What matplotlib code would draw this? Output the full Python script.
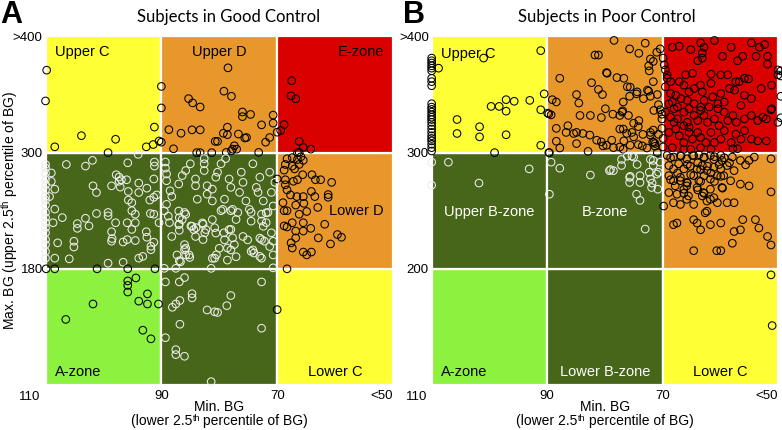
import numpy as np
import matplotlib
matplotlib.use("Agg")
from matplotlib import pyplot as plt
from matplotlib.patches import Rectangle

plt.rcParams["font.family"] = ["Liberation Sans", "DejaVu Sans"]
plt.rcParams["mathtext.fontset"] = "custom"
plt.rcParams["mathtext.rm"] = "Liberation Sans"

# ---------------------------------------------------------------- data
# grid edges (BG, mg/dL)
min_edges = [110, 90, 70, 50]
a_max_edges = [110, 180, 300, 400]
b_max_edges = [110, 200, 300, 400]
min_ticks = ["90", "70", "<50"]
a_max_ticks = ["180", "300", ">400"]
b_max_ticks = ["200", "300", ">400"]

# panel A: (min BG, max BG) per subject, grouped by region
a_top = [(109.8, 371), (110, 344.5), (103.8, 314.6), (108.4, 305), (97.9, 311.5), (91.2, 322),
         (92.6, 305), (91.4, 307), (90.4, 310), (99.2, 300), (90, 357), (90, 338.5), (90, 309),
         (85.3, 346.5), (84.6, 342.8), (83.3, 339.3), (88.7, 319.8), (86.6, 316.7), (84.7, 319.6),
         (83.3, 319.6), (80.7, 309.7), (87.9, 303.3), (83.9, 300), (83.3, 300), (81.3, 300),
         (78.5, 373), (79.2, 352.9), (77.9, 348.5), (76, 335), (76, 331), (74.6, 332.9),
         (70.7, 332.3), (70.7, 325.4), (72.7, 323.9), (78.6, 321.9), (79.3, 316.7), (78.6, 315.5),
         (76.7, 316), (75.3, 313), (75.6, 312.6), (71.3, 313), (72, 309), (80.3, 309.7),
         (77.4, 305.9), (77.7, 303), (77, 303), (77.9, 301.6), (78.8, 300.2), (73.2, 300.2),
         (70, 317.6), (69.4, 319), (67.5, 361.9), (67.6, 348.9), (66.8, 346.3), (68.8, 324.2),
         (66.2, 309.7), (65.5, 304.5), (64.2, 303), (66.2, 300.2)]
a_lower_d = [(66.5, 300), (65.9, 295.8), (68.3, 293.7), (67.4, 294.8), (66.5, 292.9), (65.5, 292),
             (68.6, 287.8), (67.4, 286.1), (66.2, 287.8), (68.8, 281.9), (67, 283.2), (65.6, 277.2),
             (64, 277.2), (62.5, 272), (60.6, 269.3), (63.4, 272), (68.6, 272), (68.6, 266.8),
             (67.2, 270.4), (66.5, 272), (70, 272.8), (68.3, 261.5), (67.7, 256.3), (66.6, 254.6),
             (65.5, 254.6), (64.1, 259.9), (63.5, 254.6), (61.2, 256.7), (61.2, 253.9), (69, 248.3),
             (66.8, 245.8), (65.4, 247.6), (68.8, 240), (68.3, 240), (66.2, 236.4), (64.9, 239.2),
             (63, 243.4), (68.8, 224.3), (68.3, 223.2), (67.4, 227.6), (65.5, 227.6), (65.5, 219),
             (66.8, 219), (64.2, 221.8), (61.8, 226), (67.6, 206.8), (67.4, 201.5), (66.8, 211.9),
             (62.9, 211.9), (60.8, 205.7), (59.6, 215.4), (58.9, 212.6), (65.5, 197.3), (64.9, 194.4),
             (64.1, 197.3), (68.3, 180), (70, 155.4)]
a_mid_left = [(110, 287.8), (110, 284.3), (110, 279), (110, 272), (110, 266.8), (110, 261.5),
              (110, 254.6), (110, 251), (110, 245.8), (110, 238.2), (110, 232.9), (110, 227.6),
              (110, 222.5), (110, 217.2), (110, 210.2), (110, 205), (110, 198), (110, 191),
              (109, 279), (109, 270.3), (108.4, 262.3), (109.3, 254.6), (106.4, 287.8), (103.1, 286.1),
              (101.9, 292), (94, 298.2), (95.8, 289.5), (91.2, 290.3), (91.2, 286.1), (91.3, 272.8),
              (97.8, 277.2), (97.3, 274.8), (96.9, 272), (96, 272), (97.3, 270.4), (98.6, 265.7),
              (97.1, 264.4), (101.8, 265.7), (101.2, 258.8), (95.7, 259.9), (93.9, 268.6), (92.5, 263.3),
              (93.9, 258.8), (95.7, 251), (95.1, 248.3), (92, 251), (91.3, 253.9), (90.8, 256.3),
              (108.4, 241.7), (108.7, 227.6), (107.1, 232.9), (107.9, 206.8), (108.4, 191), (105.9, 190.3),
              (104.5, 226.7), (104.5, 221.8), (103.1, 232.2), (102.5, 224.3), (101.2, 237.1), (99.2, 238.2),
              (99.2, 234.7), (105.1, 208.5), (105.1, 202.5), (98.6, 218.3), (98.5, 211.2), (98.6, 208.5),
              (97.9, 227.6), (96.6, 207.7), (95.9, 210.2), (95.9, 227.6), (95.1, 220.7), (94.5, 227.6),
              (94.5, 236.4), (95.1, 240), (94.5, 209.2), (92.6, 218.3), (92.5, 212.6), (91.9, 237.1),
              (91.8, 203.3), (91.8, 199.7), (91.3, 207.5), (99.2, 185.8), (96.6, 186.8), (93.9, 191),
              (93.2, 192.8), (91.3, 236.4), (90.4, 227.6)]
a_mid_center = [(89.3, 290.3), (89.3, 284), (89.1, 278), (89.1, 271), (88.5, 260.6), (88.2, 254.7),
                (89.1, 246.6), (88.8, 234.4), (87, 267.6), (86.4, 276.3), (85.8, 281.5), (85, 288.5),
                (84.1, 272.8), (84.1, 265.8), (83.8, 251.9), (82.6, 293.8), (82.6, 288.5), (82.6, 281.5),
                (82.1, 265.8), (82.1, 257.1), (81.2, 262.3), (81.2, 250.1), (80.6, 274.6), (80.3, 279.8),
                (79.7, 288.5), (79.4, 241.4), (79.1, 251.9), (78.9, 293.8), (78.3, 272.8), (78, 264.1),
                (77.7, 241.4), (77.1, 230.9), (76.5, 258.9), (76.2, 279.8), (75.9, 269.3), (75.4, 250.1),
                (74.8, 241.4), (74.5, 229.2), (74.2, 288.5), (73.6, 264.1), (73.3, 258.9), (73, 274.6),
                (72.4, 250.1), (71.9, 237.9), (71.3, 279.8), (71, 258.9), (70.7, 244.9), (70.4, 269.3),
                (87, 239.7), (87, 225.7), (86.4, 230.9), (85.8, 236.2), (84.7, 223.9), (84.4, 220.5),
                (84.1, 213.4), (82.9, 227.4), (82.3, 220.5), (81.2, 230.9), (80.6, 216.9), (80, 201.2),
                (79.1, 209.9), (78.3, 220.5), (78, 199.5), (77.1, 192.5), (75.9, 213.4), (75.1, 209.9),
                (74.2, 199.5), (73, 211.7), (72.4, 223.9), (71.3, 203), (70.7, 194.3), (85.8, 201.2),
                (85.8, 194.3), (85.2, 194.3), (88.2, 213.4), (87.3, 194.3), (86.7, 187.2), (81.2, 190.8),
                (78.6, 189), (72.7, 236.4), (71.6, 238.2), (72.7, 229.4), (71.9, 227.7), (72.7, 210.2),
                (72.2, 208.5), (74.5, 198), (74, 196.3), (73, 192.8), (72.7, 191), (71, 217.2),
                (70.7, 208.5), (78, 220.7), (77.7, 212), (78.6, 201.5), (79.2, 217.2), (77.4, 205),
                (79.7, 240), (78, 240), (76.8, 238.2), (74.5, 238.2), (89.5, 239.9), (88.6, 227.7),
                (86.9, 232.9), (86.9, 226), (86.9, 219.7), (86, 238.2), (84.9, 224.2), (84, 222.5),
                (82.8, 226), (82.5, 217.2), (82.8, 210.2), (86, 205), (86, 199.8), (85.1, 191.7),
                (86.9, 188.3), (80.8, 222.5), (80.8, 191), (80.5, 194.5)]
a_bottom = [(109.9, 180), (108.4, 180), (101.1, 180), (95.8, 180), (91.1, 180), (95.8, 172.7),
            (95.8, 170), (94.4, 174.5), (95.8, 166), (92.4, 164.9), (93.9, 160.5), (92.4, 158.8),
            (90.5, 158.8), (101.8, 158.8), (106.5, 149.5), (93.2, 143), (91.8, 137.8),
            (89.5, 180.5), (87.5, 180.5), (81.4, 180.5), (89.3, 172.1), (86.9, 172.1), (86, 174.7),
            (84.7, 165), (84.7, 162.5), (88.1, 156.8), (87.5, 158.8), (86.8, 160.9), (82.1, 155.2),
            (80.8, 154.1), (86.8, 146.6), (89.3, 138.5), (87.5, 131.3), (87.5, 128.3), (86, 127.3),
            (81.4, 112), (72.7, 172.1), (78, 163.9), (78.7, 157.8), (80.3, 153.7), (72.7, 144.2),
            (70.7, 181)]

# panel B
b_upper_c_edge = [381.4, 379.1, 377.1, 374.7, 372.7, 370.4, 364, 361.1, 357.6, 342.1, 339.2,
                  337.2, 334.9, 332.5, 330.5, 328.5, 326.1, 323.2, 320.3, 317.4, 314.5, 312.2,
                  310.1, 307.2, 304.3, 301.4]
b_upper_c = [(108.8, 372.7), (101, 381.4), (91.1, 387.8), (105.6, 328.5), (105.6, 316.5),
             (101.7, 322.3), (101.7, 313.6), (97.1, 345.6), (95.7, 344.2), (97.1, 335.7), (99.7, 339.8),
             (98.3, 339.8), (97.1, 315.4), (93, 345), (91.1, 336.9), (90.5, 350.6), (99.1, 300),
             (91.1, 306.3), (89.7, 333.4), (89.7, 300)]
b_upper_d = [(78.4, 396.6), (73, 394.2), (81.7, 384), (81.1, 384), (75.7, 389.3), (74.1, 385.5),
             (72.1, 380.6), (71.6, 378.5), (71, 386.4), (70.4, 389.3), (87.8, 364), (84.9, 350),
             (84.5, 342.7), (82.3, 360.2), (81.1, 354.4), (80.4, 350), (79.7, 368.9), (77.9, 364.6),
             (75.6, 356.4), (75.7, 348.5), (76.8, 343.6), (74.5, 350.6), (72.4, 352.9), (71.6, 361.1),
             (72.3, 370.4), (72.4, 374.7), (73.3, 346.5), (72.1, 348.5), (70.9, 350), (70.4, 336.9),
             (70.7, 341.3), (89.1, 345.6), (88.4, 343.6), (89.3, 332.5), (86.4, 323.2), (84.9, 317.4),
             (84.3, 332), (82.5, 332), (80.6, 330.2), (78.6, 333.1), (77.4, 332), (76.9, 336),
             (75.9, 332), (88.4, 320.9), (88.4, 309.8), (86.7, 317.4), (85.4, 316.5), (84.9, 307.8),
             (83.8, 316.5), (82.6, 315.1), (81.4, 310.7), (80.6, 309.3), (79.7, 306.4), (78.8, 310.7),
             (77.4, 320.3), (76.8, 320.3), (76.2, 316.5), (75, 325.3), (74.2, 322.4), (75, 313.6),
             (73.4, 315.7), (72.1, 315.1), (71.6, 319.4), (71.3, 307.8), (71.3, 305.5), (70.7, 315.7),
             (87.8, 304), (82.9, 301.1), (80.3, 305.8), (77.4, 304.9), (76.8, 302.9), (75.6, 306.4),
             (74.2, 306.9), (72.7, 304), (71.7, 309.3), (70.9, 300), (89.6, 300), (89.9, 334),
             (70.1, 333.1), (70.1, 329), (70.1, 320.9), (69.9, 312.2), (69.9, 304.9),
             (76.7, 364), (76.1, 356.7), (79.6, 368.3), (74.4, 352.3), (72.6, 353.8), (79.9, 337.8),
             (77, 334.9), (74.1, 327.6), (71.5, 336.3), (75.3, 317.4), (72.1, 317.4), (76.7, 310.1),
             (73.5, 305.8), (71.5, 308.7), (78.5, 304.3), (69.9, 381.4), (69.7, 375.6)]
b_e_zone = [(68.3, 390.7), (67.1, 391.6), (65.1, 388.7), (63.4, 394.5), (62.8, 390.7), (61, 396.6),
            (59.6, 382.9), (58.1, 390.7), (57, 379.1), (56.1, 382.9), (54.6, 394.5), (53.2, 390.7),
            (52.3, 393.1), (51.8, 382.9), (51.8, 376.2), (53.8, 382.9), (55.8, 364), (55.1, 363.4),
            (57.3, 361.1), (58.7, 366.9), (59.9, 366.9), (61.6, 367.5), (63.1, 385.8), (63.1, 381.4),
            (63.9, 379.1), (64.8, 368.3), (66, 366.9), (66.3, 358.1), (67.1, 361.1), (68.6, 361.1),
            (69.2, 366.9), (69.2, 364), (69.5, 371.2), (68.6, 350.9), (67.7, 349.4), (66.8, 346.5),
            (68.3, 343.6), (67.4, 339.2), (65.4, 352.3), (64.5, 355.2), (63.4, 358.1), (63.1, 352.3),
            (61.6, 359.6), (61.3, 348), (59.9, 350.9), (59.3, 343.6), (60.4, 342.1), (58.4, 355.2),
            (57.5, 353.8), (56.7, 361.1), (55.8, 349.4), (54.6, 346.5), (52.9, 355.2), (51.1, 358.1),
            (50, 366.9), (50, 371.2), (68.6, 330.5), (68, 326.1), (67.4, 329), (66.3, 334.9),
            (65.7, 326.1), (65.4, 321.8), (64.5, 332), (63.9, 327.6), (63.4, 339.2), (63.4, 336.3),
            (62.8, 332), (62.2, 326.1), (61, 329), (60.4, 337.8), (59.3, 334.9), (58.7, 327.6),
            (57.8, 332), (57.2, 326.1), (56.4, 340.7), (55.8, 329), (54.6, 332), (53.5, 327.6),
            (52.6, 330.5), (52, 329), (51.1, 337.8), (50, 326.1), (68.9, 317.4), (67.7, 320.3),
            (67.1, 314.5), (66.3, 308.7), (65.4, 317.4), (64.8, 311.6), (63.9, 317.4), (63.4, 313),
            (62.5, 308.7), (61.6, 317.4), (61, 308.7), (59.9, 311.6), (59.3, 318.9), (58.1, 308.7),
            (57.3, 316), (56.4, 311.6), (55.8, 318.9), (54.6, 311.6), (53.5, 310.1), (52, 310.1),
            (68.3, 304.3), (66.3, 302.9), (65.1, 302.9), (63.4, 304.3), (61.6, 302.9), (57.8, 303.4),
            (57, 303.4), (69.5, 356.7), (68.9, 342.1), (69.5, 334.9), (68, 337.8), (65.7, 345),
            (64.5, 342.1), (62.8, 345), (61.9, 339.2), (60.2, 323.2), (65.4, 337.8), (66.3, 323.2),
            (49.5, 370.4), (49.5, 366), (49.5, 348.5), (51.2, 336.9), (49.5, 330)]
b_lower_d = [(69.2, 297.6), (68.1, 296.2), (66.9, 297.6), (65.8, 294.7), (64.6, 297.6), (63.7, 298.2),
             (62.8, 296.2), (61.7, 297.6), (61.1, 294.1), (59.9, 297.6), (59.7, 293.3), (57.9, 296.2),
             (56.5, 293.3), (55, 293.3), (54.1, 296.2), (51.2, 294.7), (68.9, 288.9), (68.1, 286),
             (67.2, 290.4), (66.3, 286), (65.2, 288.3), (64, 286), (63.1, 288.9), (62.3, 284.5),
             (61.1, 287.4), (59.9, 286), (58.8, 288.9), (57.6, 284.5), (55.6, 289.5), (68.9, 280.2),
             (68.1, 275.8), (66.9, 278.7), (65.8, 274.4), (64.6, 280.2), (63.7, 275.8), (62.8, 280.2),
             (61.7, 277.3), (60.5, 280.2), (59.4, 280.2), (58.2, 275.8), (56.5, 272.9), (55, 271.4),
             (51.2, 266.2), (68.9, 265.6), (67.5, 264.2), (66.3, 268.5), (65.5, 262.7), (64, 270),
             (62.9, 265.6), (61.7, 268.5), (61.1, 261.2), (59.7, 270), (58.8, 256.9), (57.6, 256.9),
             (61.7, 259.8), (69.8, 254), (68.1, 256.9), (66.9, 255.4), (65.8, 259.8), (64.6, 255.4),
             (63.1, 262.7), (62.3, 258.3), (60.5, 256.9), (68.1, 238), (67.5, 239.4), (64.6, 242.3),
             (64, 239.4), (62.6, 248.2), (62.3, 249.6), (63.4, 233.6), (61.7, 238), (59.9, 239.4),
             (57.6, 232.1), (56.1, 242.3), (53.9, 242.3), (53.3, 235.1), (51.8, 227.8), (51.2, 220.5),
             (64.6, 215.6), (60.6, 215.6), (59.9, 215.6), (57.9, 222), (56.5, 233.6), (66.9, 275.8),
             (65.8, 271.4), (67.8, 271.4), (68.6, 295.6), (66.8, 297), (64.8, 297.6), (62.8, 295.6),
             (61, 296.5), (59.3, 295.6), (65.7, 289.8), (63.9, 291.2), (62.2, 288.3), (60.2, 289.8),
             (58.4, 291.2), (67.4, 282.5), (65.1, 281), (63.4, 285.4), (61.6, 282.5), (59.9, 279.6),
             (65.7, 273.8), (63.4, 275.2), (61, 275.2), (68.6, 276.7), (63.9, 267.9), (66.3, 265),
             (62.8, 265), (59.6, 269.4)]
b_b_zone = [(89.3, 291.8), (87.8, 286.6), (82.5, 280.7), (79.2, 284.5), (78.5, 284.5), (77.1, 294.1),
            (75.3, 297), (75, 296.2), (77.1, 288.9), (75.7, 278.7), (75.7, 274.3), (73.9, 280.2),
            (73.9, 274.3), (74.5, 264.2), (73.9, 258.9), (71.6, 293.3), (71.6, 288.9), (71, 281.6),
            (70.7, 283.1), (70.4, 291.8), (72.3, 283.1), (72.1, 277.3), (73, 234.2), (89.6, 264.2),
            (70.8, 268.5), (71.9, 270), (79, 285.4), (76.1, 297), (74.4, 289.8), (75.6, 279.6),
            (72.1, 294.1), (71.8, 273.8), (110, 291.8), (107.1, 291.8), (110, 272), (101.8, 273.8),
            (93.1, 286)]
b_lower_c = [(51.2, 195.3), (51, 156)]

# cell colours, rows bottom -> top, columns left (110) -> right (<50)
LT_GREEN, DK_GREEN = "#8cf23f", "#476619"
YELLOW, ORANGE, RED = "#ffff35", "#e8972b", "#da0000"
zone_colors = [[LT_GREEN, DK_GREEN, YELLOW],
               [DK_GREEN, DK_GREEN, ORANGE],
               [YELLOW, ORANGE, RED]]

a_zone_text = [("Upper C", 0.027, 0.955, "left", "black"), ("Upper D", 0.5, 0.955, "center", "black"),
               ("E-zone", 0.973, 0.955, "right", "black"), ("Lower D", 0.973, 0.5, "right", "black"),
               ("A-zone", 0.027, 0.037, "left", "black"), ("Lower C", 0.833, 0.037, "center", "black")]
b_zone_text = [("Upper C", 0.028, 0.95, "left", "black"), ("Upper B-zone", 0.1667, 0.497, "center", "white"),
               ("B-zone", 0.5, 0.497, "center", "white"), ("A-zone", 0.028, 0.037, "left", "black"),
               ("Lower B-zone", 0.5, 0.037, "center", "white"), ("Lower C", 0.833, 0.037, "center", "black")]


# ---------------------------------------------------------------- helpers
def piecewise(knots):
    # maps grid edges onto 0,1,2,3 with linear extrapolation beyond the ends
    k = np.asarray(knots, float)
    xp = np.concatenate([[k[0] - 100 * (k[1] - k[0])], k, [k[-1] + 100 * (k[-1] - k[-2])]])
    fp = np.concatenate([[-100.0], np.arange(len(k), dtype=float), [len(k) - 1 + 100.0]])
    return (lambda v: np.interp(v, xp, fp)), (lambda u: np.interp(u, fp, xp))


def centered_row(ax, y, parts):
    # lay out pieces of text (text, size, raise_px, gap_px) side by side, centred on the axes
    renderer = ax.figure.canvas.get_renderer()
    bb = ax.get_window_extent(renderer)
    items = []
    for s, size, dy, gap in parts:
        t = ax.text(0, y, s, transform=ax.transAxes, ha="left", va="baseline", fontsize=size)
        items.append((t, t.get_window_extent(renderer).width, dy, gap))
    total = sum(w + g for _, w, _, g in items)
    x = 0.5 - total / 2 / bb.width
    for t, w, dy, gap in items:
        t.set_position((x, y + dy / bb.height))
        x += (w + gap) / bb.width


def draw_panel(ax, max_edges, max_ticks, groups, zone_text):
    fx, ix = piecewise(min_edges[::-1])
    fy, iy = piecewise(max_edges)
    ax.set_xscale("function", functions=(fx, ix))
    ax.set_yscale("function", functions=(fy, iy))
    ax.set_xlim(min_edges[0], min_edges[-1])
    ax.set_ylim(max_edges[0], max_edges[-1])

    for r in range(3):
        for c in range(3):
            x0, x1 = min_edges[c + 1], min_edges[c]
            y0, y1 = max_edges[r], max_edges[r + 1]
            ax.add_patch(Rectangle((x0, y0), x1 - x0, y1 - y0, facecolor=zone_colors[r][c],
                                   edgecolor="white", linewidth=1.6, zorder=1))

    pts = np.array([p for g in groups for p in g], float)
    xs, ys = pts[:, 0], pts[:, 1]
    col = 3 - fx(xs)
    row = fy(ys)
    dark = ((col < 2) & (row > 1) & (row < 2)) | ((col > 1) & (col < 2) & (row < 1))
    edge = np.where(dark[:, None], [0.93, 0.93, 0.93, 1], [0, 0, 0, 1])
    ax.scatter(xs, ys, s=30, facecolors="none", edgecolors=edge, linewidths=0.75,
               clip_on=False, zorder=3)

    for txt, tx, ty, ha, color in zone_text:
        ax.text(tx, ty, txt, transform=ax.transAxes, ha=ha, va="center",
                fontsize=10.5, color=color, zorder=4)

    ax.set_xticks(min_edges[1:], min_ticks)
    ax.set_yticks(max_edges[1:], max_ticks)
    ax.get_xticklabels()[-1].set_horizontalalignment("right")
    ax.tick_params(axis="x", length=0, pad=3.5, labelsize=9.5)
    ax.tick_params(axis="y", length=0, pad=2, labelsize=9.5)
    for side in ax.spines:
        ax.spines[side].set_visible(False)

    # two-line axis label
    ax.text(0.5, -0.076, "Min. BG", transform=ax.transAxes, ha="center", va="baseline",
            fontsize=10)
    centered_row(ax, -0.115, [("(lower 2.5", 10, 0, 0.5), ("th", 6.5, 4, 2.8),
                              ("percentile of BG)", 10, 0, 0)])


# ---------------------------------------------------------------- figure
fig = plt.figure(figsize=(7.82, 4.30), dpi=100)
ax_a = fig.add_axes([0.0582, 0.1047, 0.4444, 0.8105])
ax_b = fig.add_axes([0.5520, 0.1047, 0.4428, 0.8105])

draw_panel(ax_a, a_max_edges, a_max_ticks,
           [a_top, a_lower_d, a_mid_left, a_mid_center, a_bottom], a_zone_text)
draw_panel(ax_b, b_max_edges, b_max_ticks,
           [[(110, y) for y in b_upper_c_edge], b_upper_c, b_upper_d, b_e_zone,
            b_lower_d, b_b_zone, b_lower_c], b_zone_text)

ax_a.text(-0.016, -0.017, "110", transform=ax_a.transAxes, ha="right", va="top", fontsize=9.5)
ax_b.text(-0.012, -0.017, "110", transform=ax_b.transAxes, ha="right", va="top", fontsize=9.5)

ax_a.set_ylabel("Max. BG (upper 2.5$^{\\mathrm{th}}$ percentile of BG)", fontsize=10)
ax_a.yaxis.set_label_coords(-0.074, 0.5)

fig.text(229 / 782, 1 - 17 / 430, "Subjects in Good Control", ha="center", va="center",
         fontsize=12, family="Lato")
fig.text(607 / 782, 1 - 17 / 430, "Subjects in Poor Control", ha="center", va="center",
         fontsize=12, family="Lato")
fig.text(0.0, 1 - 15 / 430, "A", ha="left", va="center", fontsize=22, fontweight="bold")
fig.text(403 / 782, 1 - 15 / 430, "B", ha="left", va="center", fontsize=22, fontweight="bold")

fig.savefig("out.png", dpi=100)
